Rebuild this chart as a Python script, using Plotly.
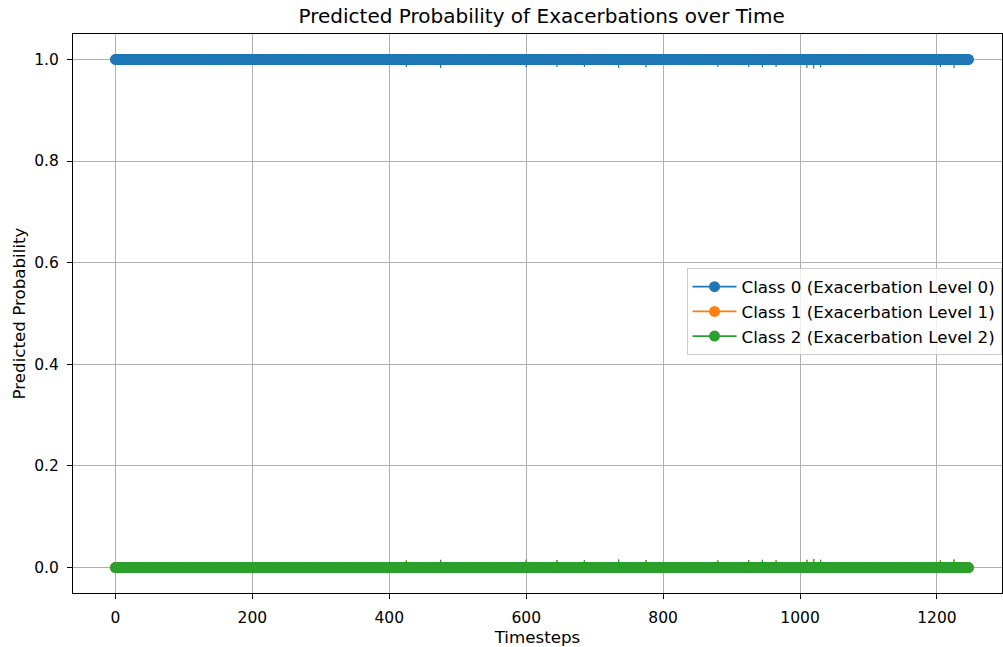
import plotly.graph_objects as go

N = 1247
timesteps = list(range(N))

# indices where small uncertainty is visible
err_idx = [425, 475, 600, 645, 685, 735, 775, 880, 925, 945, 965, 1010, 1020, 1030, 1205, 1225]
err_c0 = [0.015, 0.017, 0.016, 0.015, 0.015, 0.017, 0.016, 0.015, 0.015, 0.016, 0.015, 0.017, 0.018, 0.016, 0.015, 0.017]
err_c1 = [0.015, 0.016, 0.014, 0.015, 0.014, 0.016, 0.015, 0.015, 0.014, 0.016, 0.015, 0.016, 0.017, 0.016, 0.015, 0.016]
err_c2 = [0.014, 0.015, 0.016, 0.015, 0.015, 0.016, 0.015, 0.014, 0.015, 0.015, 0.014, 0.015, 0.017, 0.015, 0.014, 0.016]

mean_c0 = [1.0] * N
mean_c1 = [0.0] * N
mean_c2 = [0.0] * N

names = ["Class 0 (Exacerbation Level 0)", "Class 1 (Exacerbation Level 1)", "Class 2 (Exacerbation Level 2)"]
colors = ["#1f77b4", "#ff7f0e", "#2ca02c"]


def err_array(vals):
    e = [0.0] * N
    for i, v in zip(err_idx, vals):
        e[i] = v
    return e


zeros = [0.0] * N
fig = go.Figure()
for k, (mean, errs, name, col) in enumerate(zip([mean_c0, mean_c1, mean_c2], [err_c0, err_c1, err_c2], names, colors)):
    # probabilities are bounded: only the inward part of each error bar is shown
    up, down = (zeros, err_array(errs)) if k == 0 else (err_array(errs), zeros)
    fig.add_trace(go.Scatter(
        x=timesteps, y=mean, mode="lines+markers", name=name, legendgroup=f"g{k}",
        line=dict(color=col, width=1.8),
        marker=dict(color=col, size=11),
        error_y=dict(type="data", symmetric=False, array=up, arrayminus=down,
                     color=col, thickness=1.2, width=0),
    ))

font = "DejaVu Sans, sans-serif"
axis_common = dict(
    showgrid=True, gridcolor="#b0b0b0", gridwidth=1,
    showline=True, linecolor="black", linewidth=1, mirror=True,
    ticks="outside", ticklen=5, tickcolor="black", ticklabelstandoff=5,
    zeroline=False, tickfont=dict(size=15.5, color="black", family=font),
)

fig.update_layout(
    width=1003, height=647,
    margin=dict(l=73, r=1, t=34, b=54),
    paper_bgcolor="white", plot_bgcolor="white",
    font=dict(family=font, color="black"),
    title=dict(text="Predicted Probability of Exacerbations over Time", x=0.54, xanchor="center",
               y=0.975, yanchor="middle", font=dict(size=20, family=font)),
    xaxis=dict(axis_common, range=[-62, 1295], tickvals=[0, 200, 400, 600, 800, 1000, 1200],
               title=dict(text="Timesteps", font=dict(size=16.7), standoff=6)),
    yaxis=dict(axis_common, range=[-0.05, 1.05], tickvals=[0, 0.2, 0.4, 0.6, 0.8, 1.0],
               tickformat=".1f",
               title=dict(text="Predicted Probability", font=dict(size=16.7), standoff=4)),
    legend=dict(x=0.9995, xanchor="right", y=0.503, yanchor="middle",
                bgcolor="rgba(255,255,255,0.8)", bordercolor="#cccccc", borderwidth=1,
                font=dict(size=16.7, family=font), tracegroupgap=0, itemwidth=44),
    showlegend=True,
)

fig.write_html("out.html", config={"displayModeBar": False},
               post_script="document.body.style.margin='0px';")
